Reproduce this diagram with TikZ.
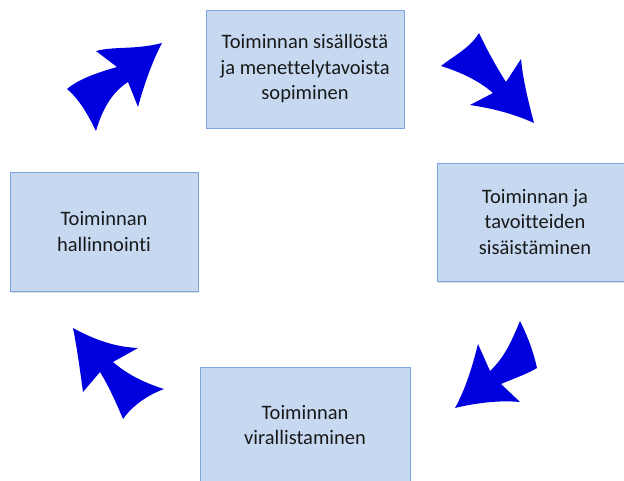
\documentclass[tikz,border=0pt]{standalone}
\usepackage{fontspec}
\setmainfont{Carlito}[Ligatures=NoCommon]
\usetikzlibrary{shadows}
\definecolor{boxfill}{RGB}{198,217,241}
\definecolor{boxline}{RGB}{126,166,222}
\definecolor{arrowblue}{RGB}{0,0,222}
\begin{document}
\begin{tikzpicture}[x=1pt,y=-1pt,
    stagebox/.style={draw=boxline,fill=boxfill,line width=0.8pt,align=center,
      text=black!90,font=\fontsize{20.5}{25.5}\selectfont,inner sep=0pt,
      drop shadow={opacity=0.25,shadow xshift=1pt,shadow yshift=-1.5pt}},
    bluearrow/.style={fill=arrowblue,draw=none}]
        \useasboundingbox (0,0) rectangle (624,481);
        \clip (0,0) rectangle (624,481);
        \node[stagebox,minimum width=198pt,minimum height=118pt] (sopiminen) at (305,69) {Toiminnan sisällöstä\\ja menettelytavoista\\sopiminen};
        \node[stagebox,minimum width=196pt,minimum height=118pt] (sisaistaminen) at (535,222) {Toiminnan ja\\tavoitteiden\\sisäistäminen};
        \node[stagebox,minimum width=210pt,minimum height=116pt] (virallistaminen) at (305,425) {Toiminnan\\virallistaminen};
        \node[stagebox,minimum width=188pt,minimum height=119pt] (hallinnointi) at (104,231.5) {Toiminnan\\hallinnointi};
        \fill[bluearrow] (162,43) .. controls (135,50) and (115,46) .. (96,51) -- (117,67)
          .. controls (100,72) and (80,78) .. (67,89)
          .. controls (80,100) and (88,115) .. (96,131)
          .. controls (102,110) and (112,92) .. (128,82) -- (138,107)
          .. controls (144,85) and (152,62) .. (162,43) -- cycle;
        \fill[bluearrow] (441,66) .. controls (455,55) and (470,48) .. (479,33)
          .. controls (487,50) and (497,68) .. (506,82) -- (521,59)
          .. controls (523,80) and (528,100) .. (534,123)
          .. controls (512,113) and (490,108) .. (470,105) -- (493,93)
          .. controls (478,80) and (460,72) .. (441,66) -- cycle;
        \fill[bluearrow] (520,321) .. controls (512,340) and (505,357) .. (490,371) -- (478,344)
          .. controls (472,368) and (465,390) .. (455,408)
          .. controls (475,403) and (500,400) .. (520,402) -- (501,384)
          .. controls (515,378) and (527,374) .. (537,368)
          .. controls (533,350) and (527,335) .. (520,321) -- cycle;
        \fill[bluearrow] (73,328) .. controls (95,340) and (115,347) .. (138,348) -- (113,362)
          .. controls (128,375) and (145,383) .. (164,389)
          .. controls (148,395) and (133,405) .. (123,419)
          .. controls (115,400) and (108,385) .. (100,372) -- (83,392)
          .. controls (80,370) and (77,348) .. (73,328) -- cycle;
\end{tikzpicture}
\end{document}
